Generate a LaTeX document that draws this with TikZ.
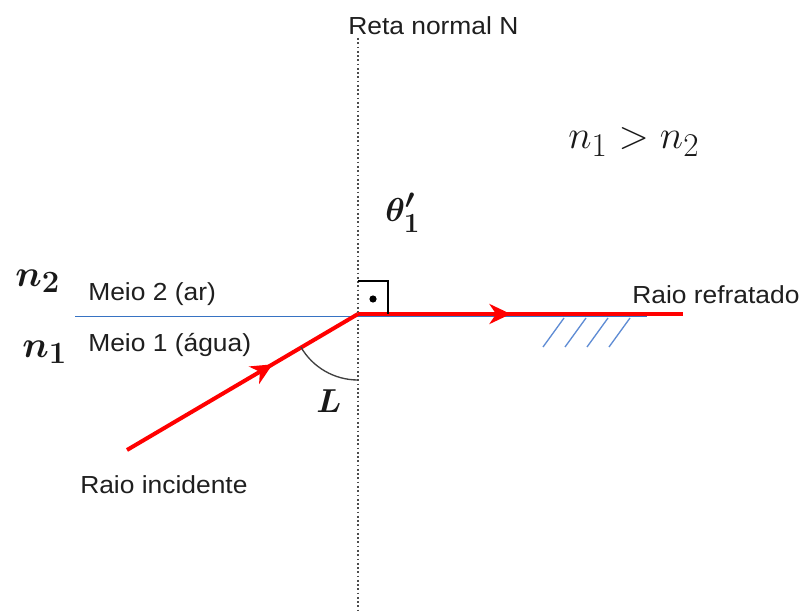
\documentclass[tikz,border=0pt]{standalone}
\usepackage{amsmath}
\usepackage{fontspec}
\usetikzlibrary{decorations.markings,arrows.meta,calc}
\newfontfamily\arialf[FakeStretch=1.07]{Liberation Sans}
\definecolor{ifblue}{RGB}{55,115,195}
\definecolor{hatchblue}{RGB}{95,140,212}
\definecolor{rayred}{RGB}{255,0,0}
\begin{document}
\begin{tikzpicture}[x=0.75pt,y=-0.75pt,
 lbl/.style={font=\arialf\fontsize{18.5}{21}\selectfont, text=black!88, inner sep=0pt, anchor=base west},
 mth/.style={inner sep=0pt, anchor=base west, font=\fontsize{24.88}{28}\selectfont, text=black!90},
 ray/.style={rayred, line width=3pt},
 midarrow/.style={postaction={decorate}, decoration={markings, mark=at position #1 with {\arrow[rayred]{Stealth[length=16pt,width=15pt,inset=5pt]}}}},
 normalline/.style={line width=1.2pt, black!70, dash pattern=on 1.3pt off 1.9pt},
 hatch/.style={hatchblue, line width=1pt},
]
\useasboundingbox (0,0) rectangle (803,613);
\coordinate (O) at (358,314);
\coordinate (Ntop) at (358,38);
\coordinate (Nbot) at (358,613);
\coordinate (Bl) at (75,316.5);
\coordinate (Br) at (647,316.5);
\coordinate (Rs) at (127,450);
\coordinate (Re) at (683,314);
% normal
\draw[normalline] (Ntop) -- (Nbot);
% interface
\draw[ifblue, line width=1.2pt] (Bl) -- (Br);
\foreach \x in {543,565,587,609} \draw[hatch] (\x,347) -- (\x+21,318);
% rays
\draw[ray, midarrow=0.63] (Rs) -- (O);
\draw[ray, midarrow=0.47] (O) -- (Re);
% angle arc
\draw[black!75, line width=1pt] ($(O)+(150:66)$) arc[start angle=150, end angle=90, radius=66];
% right angle mark
\draw[black, line width=1pt] (358,281) -- (388,281) -- (388,314);
\fill[black] (373,299) circle[radius=3.6];
% labels
\node[lbl] (tN) at (348,35) {Reta normal N};
\node[lbl] (tM2) at (88,300) {Meio 2 (ar)};
\node[lbl] (tM1) at (88,351) {Meio 1 (água)};
\node[lbl] (tRR) at (632,303) {Raio refratado};
\node[lbl] (tRI) at (80,493) {Raio incidente};
\node[mth, scale=1.12] (nn2) at (15,286) {$\boldsymbol{n_2}$};
\node[mth, scale=1.12] (nn1) at (22,357) {$\boldsymbol{n_1}$};
\node[mth] (th) at (385,221) {$\boldsymbol{\theta'_1}$};
\node[mth] (LL) at (316,412) {$\boldsymbol{L}$};
\node[mth, scale=1.2] (ineq) at (568,149) {$n_1 > n_2$};
\end{tikzpicture}
\end{document}
